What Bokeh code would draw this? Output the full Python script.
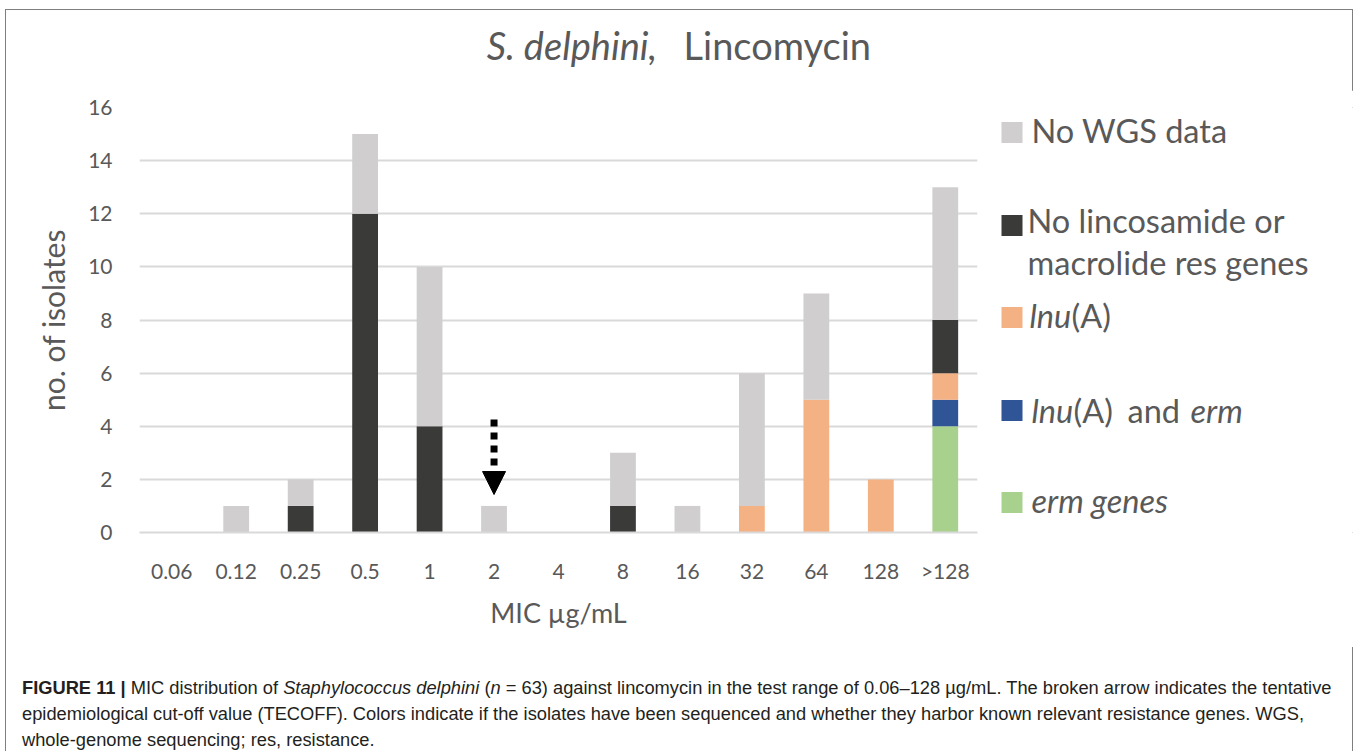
from bokeh.plotting import figure
from bokeh.models import (ColumnDataSource, Label, Arrow, NormalHead, Div, Range1d, FactorRange)
from bokeh.layouts import column, row
from bokeh.embed import file_html
from bokeh.resources import INLINE

# ---------------- data ----------------
mic = ["0.06", "0.12", "0.25", "0.5", "1", "2", "4", "8", "16", "32", "64", "128", ">128"]
erm_genes = [0, 0, 0, 0, 0, 0, 0, 0, 0, 0, 0, 0, 4]
lnu_and_erm = [0, 0, 0, 0, 0, 0, 0, 0, 0, 0, 0, 0, 1]
lnu_a = [0, 0, 0, 0, 0, 0, 0, 0, 0, 1, 5, 2, 1]
no_res_genes = [0, 0, 1, 12, 4, 0, 0, 1, 0, 0, 0, 0, 2]
no_wgs = [0, 1, 1, 3, 6, 1, 0, 2, 1, 5, 4, 0, 5]
y_ticks = [0, 2, 4, 6, 8, 10, 12, 14, 16]
tecoff = "2"
arrow_top = 4.25
arrow_tip = 1.43

stack_keys = ["erm", "lnu_erm", "lnu", "nores", "nowgs"]
colors = ["#A9D18E", "#2F5597", "#F4B183", "#3A3A38", "#D0CECE"]

TXT = "#595959"
FONT = "Lato"

# ---------------- geometry (page px) ----------------
CX, CY = 7, 11                 # content origin inside the border
TW = 1348                      # total width
TOP_H = 80                     # title strip height
SPLIT_X = 1000                 # chart | legend split
MID_BOTTOM = 648               # bottom of chart strip
CAP_H = 100
FL, FR, FT, FB = 140, 978, 108, 533   # plot frame edges on page
MID_TOP = CY + TOP_H
BASE_SHIFT = 0.38              # correction for label baseline placement (fraction of font size)


def text_fig(x0, x1, y0, y1, fy0, fy1):
    f = figure(width=x1 - x0, height=y1 - y0, x_range=Range1d(x0, x1), y_range=Range1d(fy1, fy0),
               output_backend="svg", toolbar_location=None, x_axis_location=None,
               y_axis_location=None, min_border=0)
    f.xgrid.visible = False
    f.ygrid.visible = False
    f.outline_line_color = None
    f.background_fill_color = "white"
    f.border_fill_color = "white"
    return f


def lab(f, text, px, py, size, style="normal", color=TXT):
    f.add_layout(Label(x=px, y=py - BASE_SHIFT * size, text=text, text_font=FONT,
                       text_font_size=f"{size}px", text_font_style=style, text_color=color,
                       text_baseline="alphabetic", text_align="left"))


# ---------------- title strip ----------------
top = text_fig(CX, CX + TW, CY, MID_TOP, CY, MID_TOP)
TS = 38
lab(top, "S. delphini,", 488, 60, TS, "italic")
lab(top, "Lincomycin", 685, 60, TS)

# ---------------- chart ----------------
p = figure(x_range=FactorRange(*mic), y_range=Range1d(0, 16),
           width=SPLIT_X - CX, height=MID_BOTTOM - MID_TOP,
           output_backend="svg", toolbar_location=None,
           min_border_left=FL - CX, min_border_right=SPLIT_X - FR,
           min_border_top=FT - MID_TOP, min_border_bottom=MID_BOTTOM - FB)
p.outline_line_color = None
p.background_fill_color = "white"
p.border_fill_color = "white"

source = ColumnDataSource(dict(mic=mic, erm=erm_genes, lnu_erm=lnu_and_erm, lnu=lnu_a,
                               nores=no_res_genes, nowgs=no_wgs))
p.vbar_stack(stack_keys, x="mic", width=0.4, fill_color=colors, line_color=None,
             source=source)

p.xgrid.grid_line_color = None
p.ygrid.grid_line_color = "#D9D9D9"
p.ygrid.grid_line_width = 2
p.yaxis.ticker = y_ticks
for ax in (p.xaxis[0], p.yaxis[0]):
    ax.major_tick_line_color = None
    ax.minor_tick_line_color = None
    ax.major_tick_out = 0
    ax.major_label_text_font = FONT
    ax.major_label_text_font_size = "21px"
    ax.major_label_text_color = TXT
    ax.axis_label_text_font = FONT
    ax.axis_label_text_font_style = "normal"
    ax.axis_label_text_color = TXT
p.yaxis.axis_label_text_font_size = "30px"
p.xaxis.axis_label_text_font_size = "27px"
p.yaxis.axis_line_color = None
p.xaxis.axis_line_color = "#D9D9D9"
p.xaxis.axis_line_width = 2
p.yaxis.major_label_standoff = 27
p.xaxis.major_label_standoff = 25
p.xaxis.axis_label = "MIC µg/mL"
p.yaxis.axis_label = "no. of isolates"
p.xaxis.axis_label_standoff = 10
p.yaxis.axis_label_standoff = 14

arrow_src = ColumnDataSource(dict(x0=[tecoff], y0=[arrow_top], x1=[tecoff], y1=[arrow_tip]))
p.add_layout(Arrow(end=NormalHead(size=23, fill_color="black", line_color="black", line_width=1),
                   x_start="x0", y_start="y0", x_end="x1", y_end="y1", source=arrow_src,
                   line_color="black", line_width=7, line_dash="7 6"))

# ---------------- legend strip (its frame is aligned with the chart frame) ----------------
leg = text_fig(SPLIT_X, CX + TW, MID_TOP, MID_BOTTOM, FT, FB)
legend_y = [133, 226, 318, 411, 503]
legend_colors = ["#D0CECE", "#3A3A38", "#F4B183", "#2F5597", "#A9D18E"]
SQ = 21
leg.quad(left=[1002] * 5, right=[1002 + SQ] * 5,
         top=[c - SQ / 2 for c in legend_y], bottom=[c + SQ / 2 for c in legend_y],
         fill_color=legend_colors, line_color=None)
LS = 32.5
lab(leg, "No WGS data", 1032, 143, LS)
lab(leg, "No lincosamide or", 1028, 233, LS)
lab(leg, "macrolide res genes", 1028, 275, LS)
lab(leg, "lnu", 1030, 328, LS, "italic")
lab(leg, "(A)", 1072, 328, LS)
lab(leg, "lnu", 1032, 423, LS, "italic")
lab(leg, "(A)", 1074, 423, LS)
lab(leg, "and", 1128, 423, LS)
lab(leg, "erm", 1191, 423, LS, "italic")
lab(leg, "erm genes", 1032, 513, LS, "italic")

# ---------------- caption ----------------
caption_html = (
    '<div style="font-family:\'Liberation Sans\', Arial, sans-serif; font-size:18.3px; line-height:26px; '
    'color:#231F20; white-space:nowrap; padding:23px 0 0 11px;">'
    '<b>FIGURE 11 |</b> MIC distribution of <i>Staphylococcus delphini</i> (<i>n</i> = 63) against '
    'lincomycin in the test range of 0.06–128 µg/mL. The broken arrow indicates the tentative<br>'
    'epidemiological cut-off value (TECOFF). Colors indicate if the isolates have been sequenced and '
    'whether they harbor known relevant resistance genes. WGS,<br>'
    'whole-genome sequencing; res, resistance.</div>'
)
cap = Div(text=caption_html, width=TW, height=CAP_H)

layout = column(top, row(p, leg), cap, width=TW, sizing_mode="fixed",
                styles={"border-left": "1.5px solid #7F7F7F", "border-top": "1.5px solid #7F7F7F",
                        "border-right": "1.5px solid #7F7F7F", "background": "white",
                        "margin-left": "5px", "margin-top": "9px"})

open("out.html", "w").write(file_html(layout, INLINE))
